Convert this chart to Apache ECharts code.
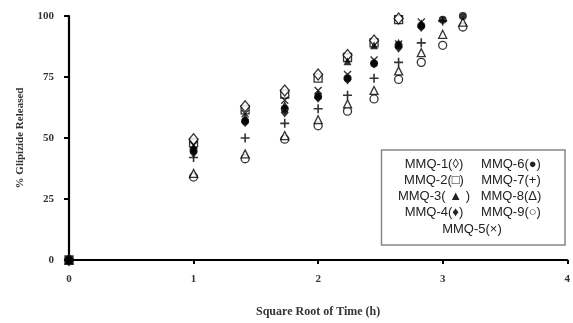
<!DOCTYPE html>
<html>
<head>
<meta charset="utf-8">
<script src="https://cdn.jsdelivr.net/npm/echarts@6/dist/echarts.min.js"></script>
<style>html,body{margin:0;padding:0;background:#fff;overflow:hidden;}#c{width:573px;height:323px;}</style>
</head>
<body>
<div id="c"></div>
<script>
// Square root of time (h)
var xs = [0, 1, 1.414, 1.732, 2, 2.236, 2.449, 2.646, 2.828, 3, 3.162];
// % Glipizide released
var mmq1 = [0, 49.5, 63, 69.5, 76, 84, 90, 99];
var mmq2 = [0, 48, 61.5, 68, 74.5, 83, 89, 98.5];
var mmq3 = [0, 46, 58.5, 63.5, 68, 81.5, 88, 89, 97];
var mmq4 = [0, 44, 56.5, 60.5, 66.5, 74, 80.5, 87, 95.5];
var mmq5 = [0, 47, 60, 65.5, 69.5, 76, 82, 88.5, 97.5];
var mmq6 = [0, 45, 57, 62, 67, 74.5, 80.5, 88, 96, 98.5, 100];
var mmq7 = [0, 42, 50, 56, 62, 67.5, 74.5, 81, 89, 98];
var mmq8 = [0, 35.5, 43.5, 51, 57.5, 64, 69.5, 77.5, 85, 92.5, 97.5];
var mmq9 = [0, 34, 41.5, 49.5, 55, 61, 66, 74, 81, 88, 95.5];
var xTicks = ['0', '1', '2', '3', '4'];
var yTicks = ['0', '25', '50', '75', '100'];
var legendRows = [
  ['MMQ-1(\u25CA)', 'MMQ-6(\u25CF)'],
  ['MMQ-2(\u25A1)', 'MMQ-7(+)'],
  ['MMQ-3( \u25B2 )', 'MMQ-8(\u0394)'],
  ['MMQ-4(\u2666)', 'MMQ-9(\u25CB)'],
  ['MMQ-5(\u00D7)']
];

function pairs(arr) {
  var out = [];
  for (var i = 0; i < arr.length; i++) { if (arr[i] != null) out.push([xs[i], arr[i]]); }
  return out;
}
var PLUS = 'path://M4.1,0H5.9V4.1H10V5.9H5.9V10H4.1V5.9H0V4.1H4.1Z';
var CROSS = 'path://M1.2,0L5,3.8L8.8,0L10,1.2L6.2,5L10,8.8L8.8,10L5,6.2L1.2,10L0,8.8L3.8,5L0,1.2Z';
function openS(name, data, symbol, size) {
  return {name: name, type: 'scatter', data: pairs(data), symbol: symbol, symbolSize: size,
    itemStyle: {color: '#fff', borderColor: '#000', borderWidth: 1.3}};
}
function fillS(name, data, symbol, size) {
  return {name: name, type: 'scatter', data: pairs(data), symbol: symbol, symbolSize: size,
    itemStyle: {color: '#000'}};
}
var series = [
  openS('MMQ-9', mmq9, 'circle', 8),
  openS('MMQ-8', mmq8, 'triangle', 8),
  openS('MMQ-2', mmq2, 'rect', 8),
  openS('MMQ-1', mmq1, 'diamond', [9, 11]),
  fillS('MMQ-7', mmq7, PLUS, 9),
  fillS('MMQ-5', mmq5, CROSS, 8),
  fillS('MMQ-3', mmq3, 'triangle', 8),
  fillS('MMQ-4', mmq4, 'diamond', [8, 10]),
  fillS('MMQ-6', mmq6, 'circle', 8)
];

var graphics = [{type: 'rect', shape: {x: 381.5, y: 150, width: 183.5, height: 95},
  style: {fill: '#fff', stroke: '#888', lineWidth: 1.5}, z: 10}];
var rowY = [164, 180.5, 196.5, 212.5, 229];
legendRows.forEach(function (row, r) {
  row.forEach(function (t, c) {
    var cx = row.length === 1 ? 472 : (c === 0 ? 434 : 511);
    graphics.push({type: 'text', x: cx, y: rowY[r], z: 11,
      style: {text: t, fill: '#222', font: '13px "Liberation Sans", Arial, sans-serif', textAlign: 'center', textVerticalAlign: 'middle'}});
  });
});

var chart = echarts.init(document.getElementById('c'), null, {renderer: 'canvas'});
chart.setOption({
  animation: false,
  backgroundColor: '#fff',
  grid: {left: 69, right: -1, top: 16, bottom: 58, containLabel: false},
  xAxis: {type: 'value', min: 0, max: 4, interval: 1,
    name: 'Square Root of Time (h)', nameLocation: 'middle', nameGap: 46,
    nameTextStyle: {fontFamily: '"Liberation Serif", "Times New Roman", serif', fontWeight: 'bold', fontSize: 12, color: '#333'},
    axisLine: {lineStyle: {color: '#000', width: 2.2}},
    axisTick: {show: true, length: 4, lineStyle: {color: '#000', width: 2}},
    axisLabel: {margin: 14, fontFamily: '"Liberation Serif", "Times New Roman", serif', fontWeight: 'bold', fontSize: 11, color: '#333',
      formatter: function (v) { return xTicks[Math.round(v)]; }},
    splitLine: {show: false}},
  yAxis: {type: 'value', min: 0, max: 100, interval: 25,
    name: '% Glipizide Released', nameLocation: 'middle', nameGap: 43,
    nameTextStyle: {fontFamily: '"Liberation Serif", "Times New Roman", serif', fontWeight: 'bold', fontSize: 11, color: '#333'},
    axisLine: {lineStyle: {color: '#000', width: 2.2}},
    axisTick: {show: true, length: 5, lineStyle: {color: '#000', width: 2}},
    axisLabel: {margin: 15, fontFamily: '"Liberation Serif", "Times New Roman", serif', fontWeight: 'bold', fontSize: 11, color: '#333',
      formatter: function (v) { return yTicks[Math.round(v / 25)]; }},
    splitLine: {show: false}},
  series: series,
  graphic: graphics
});
</script>
</body>
</html>
